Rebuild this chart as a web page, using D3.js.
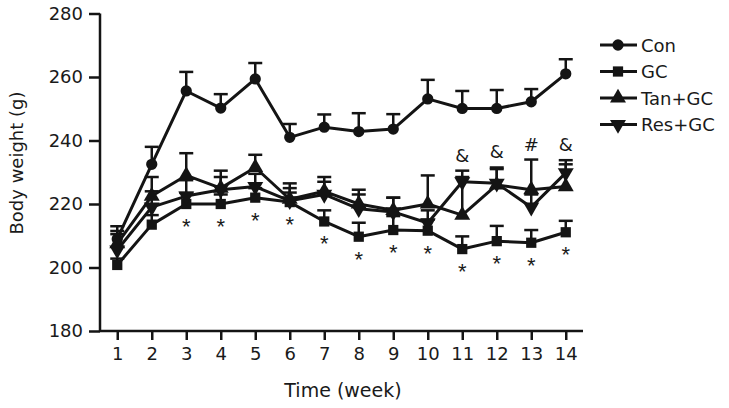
<!DOCTYPE html>
<html lang="en">
<head>
    <meta charset="UTF-8">
    <title>Body weight</title>
    <script src="https://d3js.org/d3.v7.min.js"></script>
    <style>
        body { margin: 0; background: #fff; }
        text { font-family: "DejaVu Sans", "Liberation Sans", Arial, sans-serif; fill: #1a1a1a; }
        text.star { font-family: "Liberation Sans", Arial, sans-serif; }
    </style>
</head>
<body>
<div id="chart"></div>
<script>

    // data (mean + upper error, g)
    var weeks = [1, 2, 3, 4, 5, 6, 7, 8, 9, 10, 11, 12, 13, 14];
    var conMean = [209, 232.5, 255.6, 250.2, 259.4, 241, 244.2, 242.8, 243.6, 253.1, 250.1, 250.1, 252.2, 261];
    var conErr = [4, 5.5, 6, 4.4, 5, 4.2, 4, 5.8, 4.7, 6, 5.5, 5.8, 4, 4.6];
    var gcMean = [200.8, 213.5, 220, 220, 222, 220.6, 214.5, 209.7, 211.8, 211.6, 205.8, 208.3, 207.8, 211.1];
    var gcErr = [2, 3, 3.5, 3, 3, 3, 3.5, 4.4, 4.4, 3.5, 4, 4.8, 4, 3.6];
    var tanMean = [207.5, 222.5, 229, 225, 231.5, 221.5, 224, 220, 218, 220, 216.5, 226, 224.5, 225.5];
    var tanErr = [4, 6, 7, 5.5, 4, 5, 4.5, 4.5, 4, 9, 12, 5, 9.5, 7];
    var resMean = [205.5, 219, 222.5, 224.5, 225.5, 221, 223, 218.5, 217.5, 214, 227, 226.5, 219, 229.8];
    var resErr = [5, 5, 5, 4, 4, 4, 4, 4.5, 4.5, 4, 3.5, 5, 4, 4];

    var seriesNames = ["Con", "GC", "Tan+GC", "Res+GC"];
    var yTicks = [180, 200, 220, 240, 260, 280];

    // significance marks
    var starWeeks = [3, 4, 5, 6, 7, 8, 9, 10, 11, 12, 13, 14];
    var markWeeks = [11, 12, 13, 14];
    var markLabels = ["&", "&", "#", "&"];

    var series = [
        {name: seriesNames[0], mean: conMean, err: conErr, sym: d3.symbolCircle, size: 100, rot: 0},
        {name: seriesNames[1], mean: gcMean, err: gcErr, sym: d3.symbolSquare, size: 105, rot: 0},
        {name: seriesNames[2], mean: tanMean, err: tanErr, sym: d3.symbolTriangle, size: 110, rot: 0},
        {name: seriesNames[3], mean: resMean, err: resErr, sym: d3.symbolTriangle, size: 110, rot: 180}
    ];

    var W = 729, H = 408;
    var ink = "#141414";

    var svg = d3.select("#chart")
        .append("svg")
        .attr("width", W)
        .attr("height", H);

    var x = d3.scaleLinear().domain([0.5, 14.5]).range([100, 583]);
    var y = d3.scaleLinear().domain([180, 280]).range([331, 13.5]);

    // axes
    var yAxis = svg.append("g")
        .attr("transform", "translate(100,0)")
        .call(d3.axisLeft(y).tickValues(yTicks).tickSize(11).tickPadding(6));
    var xAxis = svg.append("g")
        .attr("transform", "translate(0,331)")
        .call(d3.axisBottom(x).tickValues(weeks).tickSize(9).tickPadding(7));

    [xAxis, yAxis].forEach(function (g) {
        g.select(".domain").attr("stroke", ink).attr("stroke-width", 2.5);
        g.selectAll(".tick line").attr("stroke", ink).attr("stroke-width", 2.5);
        g.selectAll(".tick text").style("font-size", "18px").attr("fill", "#1a1a1a");
    });
    // domain paths without outer ticks
    xAxis.select(".domain").attr("d", "M100,0H583");
    yAxis.select(".domain").attr("d", "M0,331V13.5");

    svg.append("text")
        .attr("x", 343).attr("y", 397)
        .attr("text-anchor", "middle")
        .style("font-size", "19px")
        .text("Time (week)");

    svg.append("text")
        .attr("transform", "translate(23,163) rotate(-90)")
        .attr("text-anchor", "middle")
        .style("font-size", "18px")
        .text("Body weight (g)");

    var line = d3.line()
        .x(function (d, i) { return x(weeks[i]); })
        .y(function (d) { return y(d); });

    // error bars (upper only)
    series.forEach(function (s) {
        var g = svg.append("g");
        g.selectAll("line.v")
            .data(s.mean)
            .enter().append("line")
            .attr("x1", function (d, i) { return x(weeks[i]); })
            .attr("x2", function (d, i) { return x(weeks[i]); })
            .attr("y1", function (d) { return y(d); })
            .attr("y2", function (d, i) { return y(d + s.err[i]); })
            .attr("stroke", ink).attr("stroke-width", 2.5);
        g.selectAll("line.c")
            .data(s.mean)
            .enter().append("line")
            .attr("x1", function (d, i) { return x(weeks[i]) - 7; })
            .attr("x2", function (d, i) { return x(weeks[i]) + 7; })
            .attr("y1", function (d, i) { return y(d + s.err[i]); })
            .attr("y2", function (d, i) { return y(d + s.err[i]); })
            .attr("stroke", ink).attr("stroke-width", 2.5);
    });

    // lines and markers
    series.forEach(function (s) {
        svg.append("path")
            .datum(s.mean)
            .attr("fill", "none")
            .attr("stroke", ink)
            .attr("stroke-width", 3)
            .attr("stroke-linejoin", "round")
            .attr("d", line);
        svg.append("g").selectAll("path")
            .data(s.mean)
            .enter().append("path")
            .attr("d", d3.symbol().type(s.sym).size(s.size))
            .attr("transform", function (d, i) {
                return "translate(" + x(weeks[i]) + "," + y(d) + ") rotate(" + s.rot + ")";
            })
            .attr("fill", ink);
    });

    // stars below GC
    svg.append("g").selectAll("text")
        .data(starWeeks)
        .enter().append("text")
        .attr("class", "star")
        .attr("x", function (w) { return x(w); })
        .attr("y", function (w) { return y(gcMean[w - 1]) + 30; })
        .attr("text-anchor", "middle")
        .style("font-size", "22px")
        .text("*");

    // & / # above Tan and Res
    svg.append("g").selectAll("text")
        .data(markWeeks)
        .enter().append("text")
        .attr("x", function (w) { return x(w); })
        .attr("y", function (w) {
            var top = Math.max(tanMean[w - 1] + tanErr[w - 1], resMean[w - 1] + resErr[w - 1]);
            return y(top) - 9;
        })
        .attr("text-anchor", "middle")
        .style("font-size", "18px")
        .text(function (w, i) { return markLabels[i]; });

    // legend
    var legend = svg.append("g");
    series.forEach(function (s, i) {
        var ly = 45 + i * 26.5;
        legend.append("line")
            .attr("x1", 600).attr("x2", 637)
            .attr("y1", ly).attr("y2", ly)
            .attr("stroke", ink).attr("stroke-width", 3);
        legend.append("path")
            .attr("d", d3.symbol().type(s.sym).size(s.size))
            .attr("transform", "translate(618," + ly + ") rotate(" + s.rot + ")")
            .attr("fill", ink);
        legend.append("text")
            .attr("x", 641).attr("y", ly + 6.5)
            .style("font-size", "18px")
            .text(s.name);
    });

</script>
</body>
</html>
